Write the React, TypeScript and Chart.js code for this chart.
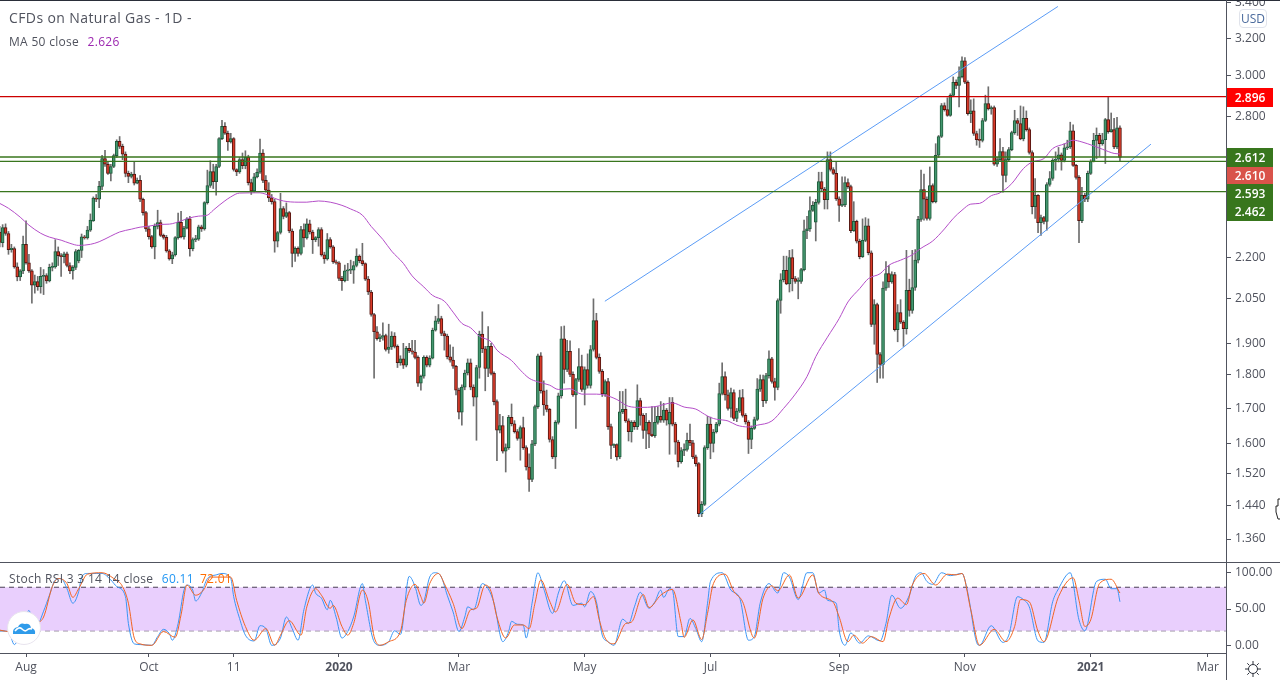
import React, { useRef, useEffect } from 'react';
import Chart from 'chart.js/auto';

const FONT = '"Open Sans", sans-serif';
const TEXT = '#50535e';

const opens = [
  2.298,2.256,2.315,2.292,2.23,2.234,2.165,2.128,2.15,2.25,
  2.18,2.15,2.098,2.111,2.093,2.13,2.133,2.114,2.163,2.165,
  2.222,2.207,2.203,2.214,2.17,2.15,2.163,2.187,2.227,2.279,
  2.275,2.305,2.342,2.435,2.43,2.484,2.605,2.58,2.54,2.57,
  2.618,2.683,2.66,2.625,2.54,2.527,2.537,2.498,2.51,2.43,
  2.375,2.31,2.28,2.24,2.32,2.335,2.285,2.277,2.225,2.195,
  2.21,2.276,2.336,2.279,2.313,2.35,2.233,2.268,2.27,2.318,
  2.31,2.416,2.488,2.548,2.504,2.57,2.695,2.752,2.72,2.68,
  2.695,2.557,2.546,2.6,2.574,2.61,2.5,2.465,2.525,2.545,
  2.63,2.51,2.468,2.436,2.42,2.262,2.296,2.392,2.36,2.375,
  2.302,2.215,2.235,2.215,2.307,2.275,2.33,2.298,2.268,2.276,
  2.307,2.21,2.195,2.268,2.24,2.184,2.18,2.123,2.115,2.15,
  2.153,2.153,2.17,2.205,2.188,2.177,2.12,2.074,1.996,1.938,
  1.915,1.92,1.925,1.88,1.888,1.924,1.89,1.838,1.85,1.83,
  1.884,1.876,1.872,1.855,1.775,1.796,1.855,1.83,1.852,1.943,
  1.972,1.982,1.932,1.924,1.857,1.846,1.827,1.754,1.689,1.763,
  1.806,1.838,1.763,1.733,1.823,1.93,1.882,1.82,1.89,1.805,
  1.72,1.638,1.651,1.58,1.59,1.674,1.656,1.634,1.615,1.645,
  1.59,1.538,1.506,1.6,1.705,1.86,1.752,1.71,1.697,1.612,
  1.565,1.66,1.737,1.915,1.817,1.874,1.802,1.74,1.786,1.826,
  1.756,1.817,1.768,1.88,1.975,1.855,1.811,1.743,1.78,1.648,
  1.596,1.598,1.565,1.69,1.697,1.664,1.634,1.66,1.648,1.723,
  1.68,1.637,1.66,1.627,1.623,1.66,1.677,1.666,1.695,1.655,
  1.718,1.655,1.605,1.552,1.582,1.585,1.61,1.603,1.565,1.547,
  1.42,1.443,1.59,1.655,1.601,1.633,1.655,1.744,1.795,1.74,
  1.7,1.747,1.671,1.692,1.732,1.68,1.661,1.612,1.643,1.668,
  1.757,1.786,1.723,1.798,1.85,1.78,1.762,2.044,2.118,2.152,
  2.103,2.2,2.122,2.112,2.112,2.155,2.303,2.31,2.384,2.337,
  2.417,2.505,2.473,2.428,2.6,2.557,2.54,2.432,2.405,2.407,
  2.5,2.483,2.303,2.34,2.262,2.203,2.265,2.322,2.218,1.962,
  2.03,1.864,1.833,2.088,2.14,2.11,2.137,1.945,2.002,1.97,
  1.948,2.08,2.01,2.09,2.19,2.348,2.471,2.43,2.352,2.488,
  2.42,2.62,2.705,2.852,2.832,2.804,2.902,2.968,2.952,2.996,
  3.078,2.968,2.813,2.826,2.719,2.691,2.687,2.78,2.862,2.836,
  2.842,2.58,2.6,2.636,2.531,2.6,2.645,2.723,2.78,2.766,
  2.694,2.79,2.737,2.632,2.4,2.446,2.335,2.355,2.34,2.492,
  2.518,2.597,2.602,2.622,2.597,2.653,2.657,2.732,2.575,2.523,
  2.343,2.446,2.43,2.54,2.592,2.687,2.71,2.672,2.69,2.784,
  2.728,2.737,2.657,2.746,
];

const closes = [
  2.257,2.315,2.292,2.23,2.235,2.165,2.128,2.15,2.25,2.18,
  2.15,2.098,2.111,2.093,2.13,2.133,2.114,2.163,2.165,2.222,
  2.207,2.203,2.214,2.17,2.15,2.163,2.222,2.227,2.279,2.275,
  2.305,2.345,2.435,2.43,2.484,2.605,2.58,2.54,2.57,2.618,
  2.683,2.66,2.625,2.54,2.527,2.537,2.498,2.51,2.43,2.375,
  2.31,2.28,2.24,2.32,2.335,2.285,2.277,2.225,2.195,2.21,
  2.276,2.336,2.279,2.313,2.35,2.233,2.268,2.27,2.318,2.31,
  2.416,2.488,2.548,2.504,2.57,2.695,2.752,2.72,2.68,2.695,
  2.557,2.546,2.6,2.574,2.61,2.5,2.465,2.525,2.545,2.63,
  2.51,2.468,2.436,2.42,2.262,2.296,2.392,2.36,2.375,2.302,
  2.215,2.235,2.215,2.307,2.275,2.33,2.298,2.268,2.276,2.307,
  2.21,2.195,2.268,2.24,2.184,2.18,2.123,2.115,2.15,2.153,
  2.155,2.17,2.205,2.188,2.177,2.12,2.074,1.996,1.938,1.915,
  1.92,1.925,1.88,1.888,1.924,1.89,1.838,1.85,1.83,1.884,
  1.876,1.872,1.855,1.775,1.796,1.855,1.83,1.852,1.943,1.974,
  1.982,1.932,1.924,1.857,1.846,1.827,1.754,1.689,1.763,1.806,
  1.838,1.763,1.733,1.823,1.93,1.882,1.82,1.89,1.805,1.72,
  1.638,1.651,1.58,1.59,1.674,1.656,1.634,1.615,1.645,1.59,
  1.538,1.506,1.6,1.705,1.86,1.752,1.71,1.697,1.612,1.565,
  1.66,1.737,1.915,1.817,1.874,1.802,1.74,1.786,1.826,1.756,
  1.817,1.768,1.88,1.975,1.855,1.811,1.743,1.78,1.648,1.596,
  1.598,1.565,1.69,1.697,1.664,1.634,1.66,1.648,1.723,1.68,
  1.637,1.66,1.627,1.623,1.66,1.677,1.666,1.695,1.666,1.689,
  1.655,1.605,1.552,1.582,1.585,1.61,1.603,1.565,1.547,1.42,
  1.443,1.59,1.655,1.601,1.633,1.655,1.744,1.795,1.74,1.7,
  1.747,1.671,1.692,1.732,1.68,1.661,1.612,1.643,1.668,1.757,
  1.786,1.723,1.798,1.85,1.78,1.762,2.044,2.118,2.152,2.103,
  2.2,2.122,2.112,2.114,2.155,2.303,2.31,2.384,2.405,2.417,
  2.505,2.473,2.428,2.6,2.557,2.54,2.432,2.405,2.407,2.5,
  2.483,2.303,2.34,2.262,2.203,2.265,2.322,2.218,1.962,2.03,
  1.864,1.833,2.088,2.14,2.11,2.137,1.945,2.002,1.97,1.948,
  2.08,2.01,2.09,2.19,2.348,2.471,2.43,2.352,2.488,2.42,
  2.62,2.705,2.852,2.832,2.804,2.902,2.968,2.952,2.996,3.078,
  2.968,2.813,2.826,2.719,2.691,2.687,2.78,2.862,2.836,2.842,
  2.58,2.6,2.636,2.531,2.6,2.645,2.723,2.78,2.766,2.694,
  2.79,2.737,2.632,2.4,2.446,2.335,2.355,2.34,2.492,2.518,
  2.597,2.602,2.622,2.597,2.653,2.657,2.732,2.575,2.523,2.343,
  2.446,2.43,2.54,2.592,2.687,2.71,2.672,2.69,2.784,2.728,
  2.737,2.657,2.746,2.61,
];

const highs = [
  2.32,2.327,2.33,2.3,2.25,2.24,2.18,2.155,2.282,2.342,
  2.212,2.155,2.135,2.13,2.163,2.155,2.14,2.175,2.18,2.268,
  2.24,2.215,2.22,2.22,2.18,2.17,2.23,2.23,2.29,2.285,
  2.32,2.37,2.44,2.45,2.506,2.62,2.642,2.59,2.58,2.625,
  2.69,2.705,2.67,2.635,2.55,2.545,2.59,2.52,2.53,2.435,
  2.38,2.32,2.285,2.33,2.385,2.345,2.29,2.285,2.23,2.22,
  2.28,2.373,2.38,2.32,2.355,2.36,2.275,2.285,2.325,2.325,
  2.42,2.554,2.595,2.58,2.58,2.7,2.781,2.77,2.73,2.72,
  2.7,2.56,2.61,2.63,2.64,2.62,2.515,2.54,2.56,2.693,
  2.645,2.53,2.5,2.45,2.43,2.3,2.455,2.4,2.415,2.38,
  2.31,2.24,2.24,2.32,2.33,2.35,2.345,2.305,2.28,2.315,
  2.315,2.22,2.292,2.276,2.245,2.19,2.185,2.13,2.172,2.178,
  2.19,2.185,2.233,2.21,2.254,2.18,2.13,2.08,2.0,1.955,
  1.93,1.968,1.93,1.963,1.938,1.935,1.895,1.86,1.9,1.89,
  1.9,1.91,1.91,1.86,1.8,1.86,1.86,1.86,1.95,1.99,
  2.03,1.99,1.94,1.93,1.895,1.888,1.83,1.76,1.77,1.815,
  1.85,1.85,1.77,1.83,1.94,2.005,1.89,1.955,1.9,1.81,
  1.725,1.683,1.677,1.6,1.68,1.713,1.665,1.64,1.65,1.675,
  1.595,1.573,1.61,1.71,1.865,1.87,1.782,1.754,1.7,1.62,
  1.665,1.745,1.955,1.957,1.91,1.908,1.81,1.79,1.883,1.862,
  1.825,1.866,1.893,2.05,2.0,1.866,1.817,1.785,1.79,1.655,
  1.6,1.6,1.75,1.75,1.757,1.67,1.665,1.665,1.77,1.73,
  1.685,1.686,1.665,1.705,1.705,1.705,1.72,1.715,1.7,1.732,
  1.732,1.66,1.61,1.59,1.6,1.63,1.655,1.61,1.57,1.55,
  1.45,1.595,1.677,1.675,1.64,1.66,1.775,1.838,1.81,1.754,
  1.76,1.755,1.7,1.754,1.756,1.685,1.665,1.65,1.675,1.789,
  1.8,1.8,1.805,1.876,1.855,1.79,2.05,2.14,2.205,2.205,
  2.227,2.23,2.13,2.125,2.16,2.345,2.36,2.44,2.42,2.43,
  2.545,2.545,2.48,2.635,2.635,2.565,2.59,2.44,2.525,2.525,
  2.516,2.49,2.42,2.345,2.27,2.35,2.355,2.35,2.225,2.047,
  2.035,1.87,2.11,2.185,2.17,2.147,2.145,2.03,2.047,1.975,
  2.227,2.12,2.227,2.23,2.36,2.554,2.537,2.44,2.568,2.495,
  2.672,2.71,2.862,2.865,2.89,2.91,2.995,2.98,3.047,3.1,
  3.095,2.975,2.88,2.885,2.73,2.74,2.79,2.903,2.945,2.85,
  2.85,2.61,2.695,2.655,2.635,2.655,2.73,2.829,2.79,2.85,
  2.846,2.826,2.745,2.64,2.517,2.45,2.365,2.36,2.5,2.548,
  2.605,2.635,2.655,2.63,2.672,2.688,2.772,2.76,2.58,2.53,
  2.48,2.455,2.55,2.6,2.72,2.745,2.72,2.72,2.79,2.892,
  2.816,2.79,2.795,2.755,
];

const lows = [
  2.24,2.24,2.285,2.212,2.22,2.16,2.114,2.115,2.14,2.175,
  2.145,2.035,2.07,2.08,2.07,2.065,2.105,2.11,2.15,2.16,
  2.17,2.13,2.18,2.165,2.14,2.12,2.155,2.18,2.2,2.27,
  2.27,2.3,2.34,2.42,2.395,2.47,2.57,2.535,2.507,2.565,
  2.61,2.65,2.6,2.525,2.5,2.52,2.49,2.495,2.42,2.365,
  2.3,2.27,2.235,2.195,2.31,2.28,2.27,2.22,2.19,2.177,
  2.205,2.27,2.275,2.27,2.31,2.205,2.225,2.26,2.265,2.3,
  2.305,2.41,2.48,2.475,2.447,2.565,2.69,2.715,2.642,2.675,
  2.55,2.53,2.54,2.56,2.56,2.49,2.45,2.46,2.52,2.54,
  2.5,2.46,2.42,2.41,2.22,2.24,2.29,2.35,2.355,2.295,
  2.165,2.185,2.205,2.21,2.24,2.27,2.29,2.215,2.26,2.243,
  2.205,2.178,2.19,2.235,2.178,2.175,2.115,2.08,2.11,2.115,
  2.14,2.105,2.165,2.18,2.17,2.115,2.065,1.99,1.79,1.91,
  1.905,1.91,1.875,1.868,1.88,1.885,1.823,1.83,1.82,1.825,
  1.87,1.865,1.85,1.765,1.754,1.79,1.825,1.825,1.85,1.94,
  1.965,1.925,1.878,1.85,1.84,1.82,1.74,1.67,1.652,1.755,
  1.8,1.755,1.707,1.61,1.79,1.87,1.752,1.795,1.8,1.71,
  1.555,1.63,1.575,1.525,1.585,1.65,1.63,1.61,1.556,1.585,
  1.53,1.475,1.5,1.595,1.7,1.745,1.68,1.69,1.605,1.56,
  1.534,1.655,1.73,1.775,1.81,1.795,1.735,1.643,1.78,1.75,
  1.71,1.76,1.76,1.875,1.85,1.805,1.735,1.735,1.64,1.56,
  1.59,1.556,1.56,1.685,1.66,1.608,1.605,1.64,1.64,1.652,
  1.615,1.587,1.59,1.62,1.618,1.655,1.66,1.66,1.652,1.572,
  1.65,1.572,1.538,1.548,1.568,1.58,1.595,1.56,1.54,1.413,
  1.413,1.44,1.585,1.56,1.578,1.63,1.65,1.74,1.724,1.695,
  1.675,1.665,1.662,1.688,1.675,1.655,1.574,1.587,1.64,1.665,
  1.75,1.705,1.715,1.79,1.775,1.724,1.755,2.0,2.11,2.1,
  2.074,2.078,2.105,2.05,2.105,2.15,2.272,2.3,2.38,2.263,
  2.41,2.465,2.39,2.39,2.55,2.535,2.425,2.34,2.4,2.4,
  2.475,2.295,2.3,2.255,2.195,2.2,2.26,2.21,1.955,1.897,
  1.777,1.79,1.79,2.08,2.09,2.105,1.94,1.905,1.965,1.89,
  1.93,1.99,2.0,2.08,2.18,2.34,2.345,2.345,2.345,2.415,
  2.415,2.61,2.7,2.825,2.8,2.8,2.895,2.936,2.845,2.99,
  2.96,2.805,2.77,2.71,2.665,2.655,2.68,2.775,2.83,2.81,
  2.575,2.57,2.595,2.46,2.503,2.595,2.64,2.715,2.71,2.69,
  2.685,2.73,2.625,2.37,2.352,2.295,2.285,2.33,2.305,2.485,
  2.51,2.554,2.59,2.554,2.59,2.645,2.65,2.57,2.515,2.256,
  2.335,2.42,2.42,2.535,2.59,2.605,2.615,2.665,2.583,2.72,
  2.725,2.65,2.65,2.595,
];

// MA 50 at every few bars
const maBars = [
  0,3,7,10,14,17,21,24,27,31,34,38,41,45,48,51,55,58,62,65,68,71,73,75,79,82,89,91,94,97,
  102,105,109,113,117,120,124,127,131,134,138,141,145,148,152,155,158,161,164,168,170,175,178,181,184,188,191,195,199,204,
  207,211,215,219,224,230,234,238,241,243,245,249,252,256,259,264,268,272,276,279,283,287,290,294,297,301,304,308,312,315,
  319,323,326,329,332,335,339,342,346,350,353,357,360,364,367,370,374,377,381,383,
];
const maValues = [
  2.413,2.393,2.357,2.325,2.293,2.278,2.266,2.254,2.246,2.25,2.26,2.282,2.298,2.309,2.317,2.321,2.328,2.329,2.342,2.354,2.361,2.365,2.385,2.405,2.44,2.456,2.457,2.451,2.434,2.423,
  2.418,2.418,2.423,2.418,2.405,2.39,2.365,2.32,2.269,2.224,2.178,2.132,2.092,2.062,2.042,2.004,1.966,1.951,1.923,1.905,1.878,1.845,1.815,1.79,1.779,1.769,1.756,1.758,1.742,1.742,
  1.739,1.726,1.706,1.703,1.705,1.716,1.704,1.698,1.683,1.674,1.669,1.664,1.652,1.647,1.652,1.664,1.7,1.742,1.795,1.857,1.92,1.982,2.039,2.086,2.122,2.14,2.171,2.19,2.21,2.235,
  2.263,2.31,2.352,2.385,2.41,2.413,2.445,2.457,2.496,2.561,2.59,2.605,2.65,2.671,2.688,2.68,2.662,2.647,2.628,2.626,
];

const stochKBars = [
  0,3,5,8,10,11,13,15,17,19,21,23,25,27,28,30,33,35,38,40,43,44,46,48,52,54,56,58,59,61,63,64,66,67,69,71,74,76,79,80,82,84,87,89,91,93,96,98,100,102,
  104,107,108,110,112,113,115,117,119,121,124,125,128,130,133,135,137,140,142,144,145,147,149,151,153,155,157,159,160,162,165,167,169,172,174,175,177,179,180,182,184,186,189,191,193,196,199,200,202,204,
  206,208,210,213,215,217,219,222,224,226,227,229,230,232,234,236,238,240,242,243,247,250,253,256,258,260,263,266,268,270,273,276,278,280,282,283,286,287,289,291,294,297,301,303,305,308,311,313,315,317,
  319,322,325,329,331,334,335,339,343,345,348,350,352,355,357,360,362,366,369,371,375,378,380,382,383,
];
const stochKValues = [
  20,19,1,30,48,37,30,47,69,90,92,78,58,74,94,99,99,99,90,81,67,30,2,1,0,12,22,16,7,30,76,83,76,61,72,92,97,99,92,67,37,14,6,27,23,0,10,39,23,7,
  49,83,72,65,49,62,39,10,19,39,85,62,5,0,5,20,15,95,81,55,60,94,100,94,69,46,19,39,53,49,85,78,58,5,19,33,29,28,10,58,100,78,44,72,89,55,58,53,74,60,
  14,5,0,36,30,53,73,51,60,76,66,78,76,12,12,37,23,5,58,88,100,76,65,7,12,58,85,72,100,94,63,100,100,72,76,62,58,21,0,17,3,13,6,30,69,51,69,94,100,88,
  84,100,96,99,72,4,0,27,4,14,67,63,53,6,4,60,78,100,35,20,88,91,78,78,60,
];

const stochDBars = [
  0,3,10,13,15,18,20,23,25,27,30,35,39,42,44,46,48,52,56,60,62,64,67,70,72,79,81,84,87,91,94,96,99,103,105,108,110,113,114,117,119,121,124,126,128,130,133,137,139,142,
  144,145,147,150,152,155,158,161,163,166,168,170,173,176,179,181,183,185,188,190,194,197,200,203,205,207,210,214,216,220,222,226,230,233,234,237,240,242,244,248,251,254,258,261,264,266,270,273,278,280,
  285,287,290,292,295,298,302,304,307,310,312,316,320,324,327,329,332,335,340,344,347,349,352,355,357,362,367,369,371,373,376,380,383,
];
const stochDValues = [
  21,19,37,32,39,81,92,85,66,78,98,100,92,81,58,10,2,0,19,11,42,83,69,78,94,94,62,26,7,23,0,14,34,14,53,78,69,51,55,26,14,30,76,60,12,0,5,19,62,84,
  67,58,85,99,85,58,23,49,51,83,74,39,10,28,28,23,58,90,61,46,84,58,56,67,35,10,2,30,32,70,52,69,77,30,11,35,8,44,85,98,74,60,10,65,82,75,97,65,97,72,
  59,39,5,14,3,12,5,37,65,56,83,99,83,98,97,99,49,0,22,5,26,63,60,19,5,67,93,62,26,35,85,91,72,
];

const levelSupports = [2.612, 2.593, 2.462];
const levelResistance = 2.896;
const channelUpperBars = [206.9, 361.8];
const channelUpperValues = [2.0415, 3.378];
const channelLowerBars = [239.1, 393.6];
const channelLowerValues = [1.417, 2.67];

const priceTicks = [3.4, 3.2, 3.0, 2.8, 2.2, 2.05, 1.9, 1.8, 1.7, 1.6, 1.52, 1.44, 1.36];
const stochTicks = [100, 50, 0];
const stochBands = [80, 20];
const monthBars = [9, 51, 80, 116, 157, 200, 243, 287, 330, 373, 413];
const monthLabels = ['Aug', 'Oct', '11', '2020', 'Mar', 'May', 'Jul', 'Sep', 'Nov', '2021', 'Mar'];
const boldMonths = ['2020', '2021'];

const priceTags = [
  { text: '2.896', top: 88, height: 19, bg: '#ff0000' },
  { text: '2.612', top: 148, height: 19, bg: '#38761d' },
  { text: '2.610', top: 167, height: 17, bg: '#d9534a' },
  { text: '2.593', top: 184, height: 19, bg: '#38761d' },
  { text: '2.462', top: 203, height: 18, bg: '#38761d' },
];

const X_MIN = 0.1;
const X_MAX = 419.6;
const toXY = (xs: number[], ys: number[]) => xs.map((x, i) => ({ x, y: ys[i] }));
const isUp = (i: number) => closes[i] >= opens[i];

const fitRight = (s: any) => {
  s.width = 53;
  s.paddingTop = 0;
  s.paddingBottom = 0;
};

const PriceChart: React.FC = () => {
  const ref = useRef<HTMLCanvasElement | null>(null);
  useEffect(() => {
    if (!ref.current) return;
    const lineBase = { type: 'line', pointRadius: 0, borderWidth: 1, fill: false };
    const level = (v: number, color: string) => ({
      ...lineBase,
      borderWidth: 1.3,
      data: [{ x: X_MIN, y: v }, { x: X_MAX, y: v }],
      borderColor: color,
    });
    const chart = new Chart(ref.current, {
      type: 'bar',
      data: {
        datasets: [
          level(levelResistance, '#cc0000'),
          ...levelSupports.map((v) => level(v, '#38761d')),
          { ...lineBase, data: toXY(channelUpperBars, channelUpperValues), borderColor: '#5b9cf6' },
          { ...lineBase, data: toXY(channelLowerBars, channelLowerValues), borderColor: '#5b9cf6' },
          { ...lineBase, data: toXY(maBars, maValues), borderColor: '#b44ec8', cubicInterpolationMode: 'monotone' },
          {
            data: opens.map((o, i) => ({ x: i, y: [o, closes[i]] })),
            backgroundColor: opens.map((_, i) => (isUp(i) ? '#43976f' : '#d93a28')),
            borderColor: opens.map((_, i) => (isUp(i) ? '#1d5a3a' : '#541510')),
            borderWidth: 1,
            borderSkipped: false,
            barThickness: 3,
            minBarLength: 1,
            grouped: false,
          },
          {
            data: highs.map((h, i) => ({ x: i, y: [lows[i], h] })),
            backgroundColor: '#6e6e6e',
            barThickness: 1,
            grouped: false,
          },
        ] as any,
      },
      options: {
        animation: false,
        responsive: false,
        layout: { padding: 0 },
        plugins: { legend: { display: false }, tooltip: { enabled: false } },
        scales: {
          x: { type: 'linear', display: false, offset: false, min: X_MIN, max: X_MAX, grid: { display: false } },
          y: {
            type: 'logarithmic',
            position: 'right',
            bounds: 'data',
            min: 1.3077,
            max: 3.4155,
            afterFit: fitRight,
            afterBuildTicks: (s: any) => { s.ticks = priceTicks.map((value) => ({ value })); },
            grid: { drawOnChartArea: false, drawTicks: true, tickLength: 4, color: TEXT },
            border: { display: false },
            ticks: {
              autoSkip: false,
              padding: 4,
              color: TEXT,
              font: { family: FONT, size: 12 },
              callback: (v: any) => Number(v).toFixed(3),
            },
          },
        },
      } as any,
    });
    return () => {
      chart.destroy();
    };
  }, []);
  return <canvas ref={ref} width={1280} height={562} style={{ position: 'absolute', left: 0, top: 0, display: 'block' }} />;
};

const StochChart: React.FC = () => {
  const ref = useRef<HTMLCanvasElement | null>(null);
  useEffect(() => {
    if (!ref.current) return;
    const lineBase = { type: 'line', pointRadius: 0, borderWidth: 1, fill: false };
    const chart = new Chart(ref.current, {
      type: 'line',
      data: {
        datasets: [
          { ...lineBase, data: toXY(stochDBars, stochDValues), borderColor: '#f26522', cubicInterpolationMode: 'monotone' },
          { ...lineBase, data: toXY(stochKBars, stochKValues), borderColor: '#3a96f5', cubicInterpolationMode: 'monotone' },
          {
            ...lineBase,
            data: [{ x: X_MIN, y: stochBands[0] }, { x: X_MAX, y: stochBands[0] }],
            borderColor: '#4a3f55',
            borderDash: [5, 4],
            fill: '+1',
            backgroundColor: '#e9cffd',
          },
          {
            ...lineBase,
            data: [{ x: X_MIN, y: stochBands[1] }, { x: X_MAX, y: stochBands[1] }],
            borderColor: '#4a3f55',
            borderDash: [5, 4],
          },
        ] as any,
      },
      options: {
        animation: false,
        responsive: false,
        layout: { padding: 0 },
        plugins: { legend: { display: false }, tooltip: { enabled: false } },
        scales: {
          x: {
            type: 'linear',
            offset: false,
            min: X_MIN,
            max: X_MAX,
            afterFit: (s: any) => {
              s.height = 27;
              s.paddingLeft = 0;
              s.paddingRight = 0;
            },
            afterBuildTicks: (s: any) => { s.ticks = monthBars.map((value) => ({ value })); },
            grid: { drawOnChartArea: false, drawTicks: true, tickLength: 4, color: TEXT },
            border: { display: false },
            ticks: {
              autoSkip: false,
              maxRotation: 0,
              padding: 3,
              color: TEXT,
              font: (ctx: any) => ({
                family: FONT,
                size: 12,
                weight: boldMonths.includes(monthLabels[ctx.index]) ? 'bold' : 'normal',
              }),
              callback: (_: any, i: number) => monthLabels[i],
            },
          },
          y: {
            position: 'right',
            min: -10.6,
            max: 113.4,
            afterFit: fitRight,
            afterBuildTicks: (s: any) => { s.ticks = stochTicks.map((value) => ({ value })); },
            grid: { drawOnChartArea: false, drawTicks: true, tickLength: 4, color: TEXT },
            border: { display: false },
            ticks: {
              autoSkip: false,
              padding: 4,
              color: TEXT,
              font: { family: FONT, size: 12 },
              callback: (v: any) => Number(v).toFixed(2),
            },
          },
        },
      } as any,
    });
    return () => {
      chart.destroy();
    };
  }, []);
  return <canvas ref={ref} width={1280} height={117} style={{ position: 'absolute', left: 0, top: 563, display: 'block' }} />;
};

const abs = (left: number, top: number, extra: React.CSSProperties = {}): React.CSSProperties => ({
  position: 'absolute',
  left,
  top,
  whiteSpace: 'nowrap',
  fontFamily: FONT,
  ...extra,
});

export default function App() {
  return (
    <div style={{ position: 'absolute', left: 0, top: 0, width: 1280, height: 680, overflow: 'hidden', background: '#fff' }}>
      <PriceChart />
      <StochChart />

      <div style={abs(0, 0, { width: 1280, height: 1, background: '#2a2e39' })} />
      <div style={abs(0, 562, { width: 1280, height: 1, background: TEXT })} />
      <div style={abs(0, 653, { width: 1227, height: 1, background: TEXT })} />
      <div style={abs(1226, 0, { width: 1, height: 680, background: TEXT })} />

      <div style={abs(9, 9, { fontSize: 14, lineHeight: '18px', color: TEXT, letterSpacing: 0.4 })}>CFDs on Natural Gas - 1D -</div>
      <div style={abs(9, 33, { fontSize: 12, lineHeight: '18px', color: TEXT, letterSpacing: 0.3 })}>
        MA 50 close <span style={{ color: '#9c27b0', marginLeft: 5 }}>2.626</span>
      </div>
      <div style={abs(9, 570, { fontSize: 12, lineHeight: '18px', color: TEXT, letterSpacing: 0.3 })}>
        Stoch RSI 3 3 14 14 close <span style={{ color: '#2196f3', marginLeft: 5 }}>60.11</span>
        <span style={{ color: '#ff6d00', marginLeft: 6 }}>72.01</span>
      </div>

      <div style={abs(1239, 9, { width: 26, height: 17, border: '1px solid #e0e3eb', borderRadius: 4, background: '#fff', textAlign: 'center', fontSize: 12, lineHeight: '17px', color: '#4a6a9c' })}>USD</div>

      {priceTags.map((t) => (
        <div key={t.text} style={abs(1227, t.top, { width: 46, height: t.height, background: t.bg, color: '#fff', fontSize: 12, fontWeight: 600, lineHeight: t.height + 'px', textAlign: 'center' })}>
          {t.text}
        </div>
      ))}

      <svg width={36} height={36} style={abs(6, 610)} viewBox="0 0 36 36">
        <circle cx={18} cy={18} r={16.5} fill="#fff" stroke="#e8e4ee" />
        <path d="M7 24 q-1 -6 5 -7 q2 -5 7 -3 q5 -1 6 4 q5 1 4 6 z" fill="#2f9bea" />
        <path d="M9 21 q4 -5 7 -2 t5 1 t5 -1" fill="none" stroke="#fff" strokeWidth={1.6} />
      </svg>
      <svg width={18} height={18} style={abs(1244, 660)} viewBox="0 0 18 18">
        <circle cx={9} cy={9} r={4.5} fill="none" stroke="#2a2e39" />
        <path d="M9 1v3M9 14v3M1 9h3M14 9h3M3.3 3.3l2 2M12.7 12.7l2 2M3.3 14.7l2-2M12.7 5.3l2-2" stroke="#2a2e39" />
      </svg>
      <svg width={6} height={22} style={abs(1275, 498)} viewBox="0 0 6 22">
        <path d="M6 1 L3 1 L3 8 L1 8 L1 14 L3 21 L6 21" fill="#fff" stroke="#222" />
      </svg>
    </div>
  );
}
